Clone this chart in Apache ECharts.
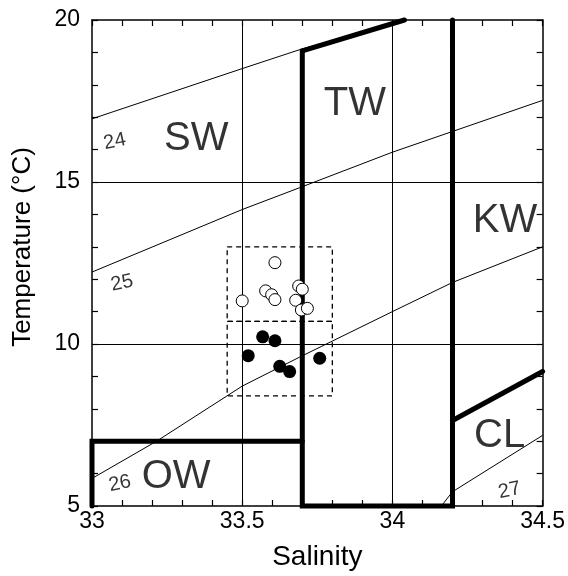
<!DOCTYPE html>
<html>
<head>
    <meta charset="utf-8">
    <title>T-S diagram</title>
    <script src="https://cdn.jsdelivr.net/npm/echarts@6/dist/echarts.min.js"></script>
    <style>
        html, body { margin: 0; padding: 0; background: #fff; }
    </style>
</head>
<body>
    <div id="chart" style="width: 568px; height: 576px;"></div>

    <script>
    // axis ranges / major ticks (labels + grid lines)
    const salinityTicks = [33, 33.5, 34, 34.5];
    const temperatureTicks = [5, 10, 15, 20];
    const salinityGrid = [33.5, 34];
    const temperatureGrid = [10, 15];

    // sigma-t isopycnals [salinity, temperature]
    const isopycnal24 = [[33, 16.95], [33.5, 18.5], [33.69, 19.08], [34.04, 20]];
    const isopycnal25 = [[33, 12.22], [33.5, 14.15], [33.69, 14.82], [34, 15.92], [34.2, 16.56], [34.5, 17.52]];
    const isopycnal26 = [[33, 5.85], [33.215, 7], [33.5, 8.7], [33.69, 9.59], [34, 11.0], [34.2, 11.9], [34.5, 13.0]];
    const isopycnal27 = [[34.163, 5], [34.2, 5.44], [34.5, 7.18]];

    // water mass boundaries
    const twBoundary = [[34.04, 20], [33.7, 19.05], [33.7, 5], [34.2, 5], [34.2, 20]];
    const owBoundary = [[33.7, 7], [33, 7], [33, 5]];
    const clBoundary = [[34.2, 7.64], [34.5, 9.15]];

    // dashed sample boxes
    const upperBox = [[33.45, 13], [33.8, 13], [33.8, 10.7], [33.45, 10.7], [33.45, 13]];
    const lowerBox = [[33.45, 10.7], [33.8, 10.7], [33.8, 8.4], [33.45, 8.4], [33.45, 10.7]];

    // observations
    const openPoints = [
        [33.609, 12.51], [33.5, 11.33], [33.578, 11.64], [33.598, 11.52], [33.609, 11.37],
        [33.688, 11.79], [33.70, 11.69], [33.678, 11.35], [33.697, 11.05], [33.717, 11.1]
    ];
    const filledPoints = [
        [33.568, 10.22], [33.609, 10.10], [33.52, 9.64], [33.625, 9.31], [33.658, 9.15], [33.758, 9.56]
    ];

    // labels [salinity, temperature, text]
    const isopycnalLabels = [[33.076, 16.25, '24'], [33.1, 11.88, '25'], [33.093, 5.69, '26'], [34.39, 5.48, '27']];
    const waterMassLabels = [[33.347, 16.34, 'SW'], [33.875, 17.42, 'TW'], [34.375, 13.8, 'KW'], [34.357, 7.15, 'CL'], [33.28, 5.89, 'OW']];

    const font = '"Liberation Sans", Arial, Helvetica, sans-serif';
    const chart = echarts.init(document.getElementById('chart'));

    // show a label only on the major ticks
    function majorOnly(list) {
        return v => list.some(t => Math.abs(t - v) < 1e-6) ? String(v) : '';
    }

    function tickStyle() {
        return {
            axisLine: { show: true, lineStyle: { color: '#000', width: 1.5 } },
            axisTick: { show: true, inside: true, length: 6, lineStyle: { color: '#000', width: 1.2 } },
            splitLine: { show: false }
        };
    }

    function thin(data) {
        return {
            type: 'line', data: data, showSymbol: false, symbol: 'none', silent: true,
            lineStyle: { color: '#000', width: 1 }, z: 2
        };
    }
    function thick(data) {
        return {
            type: 'line', data: data, showSymbol: false, symbol: 'none', silent: true, clip: false,
            lineStyle: { color: '#000', width: 5, cap: 'round', join: 'miter' }, z: 3
        };
    }
    function dashed(data) {
        return {
            type: 'line', data: data, showSymbol: false, symbol: 'none', silent: true,
            lineStyle: { color: '#000', width: 1.3, type: [5, 4] }, z: 2
        };
    }
    function textSeries(data, size, rotate) {
        return {
            type: 'scatter', data: data, symbolSize: 1, silent: true,
            itemStyle: { color: 'rgba(0,0,0,0)' },
            label: {
                show: true, position: 'inside', rotate: rotate,
                formatter: p => p.data[2],
                color: '#000', fontFamily: font, fontSize: size
            },
            z: 4
        };
    }

    const xRange = { min: salinityTicks[0], max: salinityTicks[salinityTicks.length - 1], interval: 0.1 };
    const yRange = { min: temperatureTicks[0], max: temperatureTicks[temperatureTicks.length - 1], interval: 1 };

    const option = {
        backgroundColor: '#fff',
        animation: false,
        grid: { left: 92, right: 25, top: 20, bottom: 68, containLabel: false },
        xAxis: [
            Object.assign({
                type: 'value', position: 'bottom',
                name: 'Salinity', nameLocation: 'middle', nameGap: 37,
                nameTextStyle: { color: '#000', fontFamily: font, fontSize: 28 },
                axisLabel: {
                    color: '#000', fontFamily: font, fontSize: 23, margin: 4,
                    formatter: majorOnly(salinityTicks)
                }
            }, xRange, tickStyle()),
            Object.assign({
                type: 'value', position: 'top', axisLabel: { show: false }
            }, xRange, tickStyle())
        ],
        yAxis: [
            Object.assign({
                type: 'value', position: 'left',
                name: 'Temperature (°C)', nameLocation: 'middle', nameGap: 56,
                nameTextStyle: { color: '#000', fontFamily: font, fontSize: 26, padding: [0, 0, 0, 32] },
                axisLabel: {
                    color: '#000', fontFamily: font, fontSize: 23, margin: 12,
                    formatter: majorOnly(temperatureTicks)
                }
            }, yRange, tickStyle()),
            Object.assign({
                type: 'value', position: 'right', axisLabel: { show: false }
            }, yRange, tickStyle())
        ],
        series: [
            Object.assign(thin(isopycnal24), {
                markLine: {
                    silent: true, symbol: 'none', label: { show: false },
                    lineStyle: { color: '#000', width: 1, type: 'solid' },
                    data: salinityGrid.map(v => ({ xAxis: v }))
                        .concat(temperatureGrid.map(v => ({ yAxis: v })))
                }
            }),
            thin(isopycnal25),
            thin(isopycnal26),
            thin(isopycnal27),
            dashed(upperBox),
            dashed(lowerBox),
            thick(twBoundary),
            thick(owBoundary),
            thick(clBoundary),
            {
                type: 'scatter', data: openPoints, symbol: 'circle', symbolSize: 12, silent: true,
                itemStyle: { color: '#fff', borderColor: '#000', borderWidth: 1, opacity: 1 }, z: 5
            },
            {
                type: 'scatter', data: filledPoints, symbol: 'circle', symbolSize: 13, silent: true,
                itemStyle: { color: '#000', opacity: 1 }, z: 5
            },
            textSeries(isopycnalLabels, 20, 12),
            textSeries(waterMassLabels, 40, 0)
        ]
    };

    chart.setOption(option);
    </script>
</body>
</html>
